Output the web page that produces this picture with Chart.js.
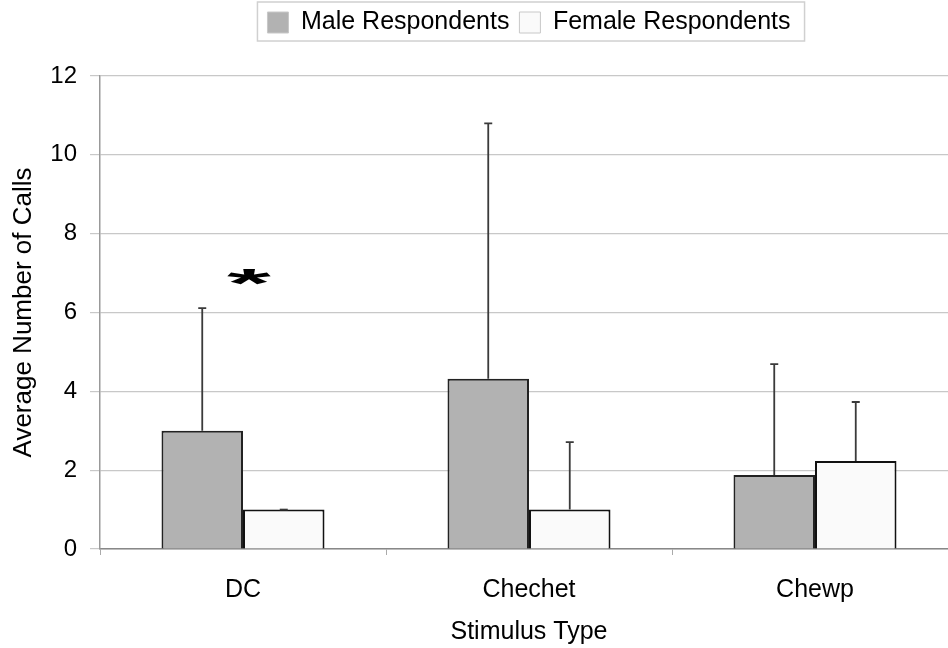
<!DOCTYPE html>
<html>
<head>
<meta charset="utf-8">
<script src="https://cdn.jsdelivr.net/npm/chart.js@4/dist/chart.umd.min.js"></script>
<style>
  body { margin: 0; background: #fff; overflow: hidden; }
  #wrap { position: absolute; left: 0; top: 0; width: 962px; height: 648px; }
</style>
</head>
<body>
<div id="wrap"><canvas id="myChart"></canvas></div>
<script>
// data
const stimulusTypes = ['DC', 'Chechet', 'Chewp'];
const maleMeans = [3.0, 4.32, 1.88];
const maleErrors = [3.11, 6.48, 2.81];
const femaleMeans = [1.0, 1.0, 2.23];
const femaleErrors = [0, 1.71, 1.5];
const yTicks = [0, 2, 4, 6, 8, 10, 12];
const sigCategories = ['DC'];
const sigHeights = [6.9];

const errorsBySet = [maleErrors, femaleErrors];
const fontFamily = '"Liberation Sans", Arial, Helvetica, sans-serif';

// error bars, drawn from the scales
const errorBars = {
    id: 'errorBars',
    afterDatasetsDraw(chart) {
        const ctx = chart.ctx;
        const y = chart.scales.y;
        ctx.save();
        ctx.strokeStyle = '#3a3a3a';
        ctx.lineWidth = 1.8;
        chart.data.datasets.forEach((ds, i) => {
            const meta = chart.getDatasetMeta(i);
            meta.data.forEach((bar, j) => {
                const top = y.getPixelForValue(ds.data[j] + errorsBySet[i][j]);
                ctx.beginPath();
                ctx.moveTo(bar.x, bar.y);
                ctx.lineTo(bar.x, top);
                ctx.moveTo(bar.x - 4, top);
                ctx.lineTo(bar.x + 4, top);
                ctx.stroke();
            });
        });
        // significance asterisk
        ctx.fillStyle = '#000';
        ctx.font = 'bold 90px ' + fontFamily;
        ctx.textAlign = 'center';
        ctx.textBaseline = 'middle';
        sigCategories.forEach((c, k) => {
            const px = chart.scales.x.getPixelForValue(stimulusTypes.indexOf(c)) + 6;
            const py = y.getPixelForValue(sigHeights[k]);
            ctx.save();
            ctx.translate(px, py);
            ctx.scale(1.25, 0.45);
            ctx.fillText('*', 0, 20);
            ctx.restore();
        });
        ctx.restore();
    }
};

// frame round the legend, plus extra room under it
const legendFrame = {
    id: 'legendFrame',
    beforeLayout(chart) {
        const lg = chart.legend;
        if (lg && !lg._patched) {
            lg._patched = true;
            const origFit = lg.fit;
            lg.fit = function () {
                origFit.call(this);
                this.height = this.height + 31;
            };
        }
    },
    afterDraw(chart) {
        const boxes = chart.legend.legendHitBoxes;
        if (!boxes || !boxes.length) return;
        const left = Math.min(...boxes.map(b => b.left)) - 10;
        const right = Math.max(...boxes.map(b => b.left + b.width)) + 14;
        const top = boxes[0].top - 8;
        const ctx = chart.ctx;
        ctx.save();
        ctx.strokeStyle = '#d0d0d0';
        ctx.lineWidth = 1.5;
        ctx.strokeRect(left, top, right - left, 39);
        ctx.restore();
    }
};

const ctx = document.getElementById('myChart').getContext('2d');
const myChart = new Chart(ctx, {
    type: 'bar',
    data: {
        labels: stimulusTypes,
        datasets: [{
            label: 'Male Respondents',
            data: maleMeans,
            backgroundColor: '#b2b2b2',
            borderColor: '#222',
            borderWidth: 2,
            categoryPercentage: 0.57,
            barPercentage: 1.0
        }, {
            label: 'Female Respondents',
            data: femaleMeans,
            backgroundColor: '#fafafa',
            borderColor: '#111',
            borderWidth: 2,
            categoryPercentage: 0.57,
            barPercentage: 1.0
        }]
    },
    options: {
        responsive: true,
        maintainAspectRatio: false,
        animation: false,
        layout: { padding: { top: 0, left: 0, right: 4, bottom: 0 } },
        plugins: {
            tooltip: { enabled: false },
            legend: {
                position: 'top',
                fullSize: false,
                labels: {
                    color: '#000',
                    font: { family: fontFamily, size: 25 },
                    boxWidth: 21,
                    boxHeight: 21,
                    padding: 10,
                    generateLabels(chart) {
                        const items = Chart.defaults.plugins.legend.labels.generateLabels(chart);
                        items.forEach(it => { it.strokeStyle = '#c8c8c8'; it.lineWidth = 1; });
                        return items;
                    }
                }
            }
        },
        scales: {
            x: {
                afterFit(scale) { scale.height = 99; },
                grid: {
                    drawOnChartArea: false,
                    drawTicks: true,
                    tickLength: 6,
                    color: '#aaa'
                },
                border: { color: '#888', width: 1.5 },
                ticks: {
                    color: '#000',
                    padding: 20,
                    font: { family: fontFamily, size: 25 }
                },
                title: {
                    display: true,
                    text: 'Stimulus Type',
                    color: '#000',
                    font: { family: fontFamily, size: 25 },
                    padding: { top: 4, bottom: 1 }
                }
            },
            y: {
                min: 0,
                max: 12,
                afterFit(scale) { scale.width = 100; },
                afterBuildTicks(scale) { scale.ticks = yTicks.map(v => ({ value: v })); },
                grid: {
                    color: '#c8c8c8',
                    lineWidth: 1.2,
                    tickLength: 10
                },
                border: { color: '#999', width: 1.5 },
                ticks: {
                    color: '#000',
                    padding: 13,
                    font: { family: fontFamily, size: 24 }
                },
                title: {
                    display: true,
                    text: 'Average Number of Calls',
                    color: '#000',
                    font: { family: fontFamily, size: 26 },
                    padding: { top: 8, bottom: 4 }
                }
            }
        }
    },
    plugins: [errorBars, legendFrame]
});
</script>
</body>
</html>
